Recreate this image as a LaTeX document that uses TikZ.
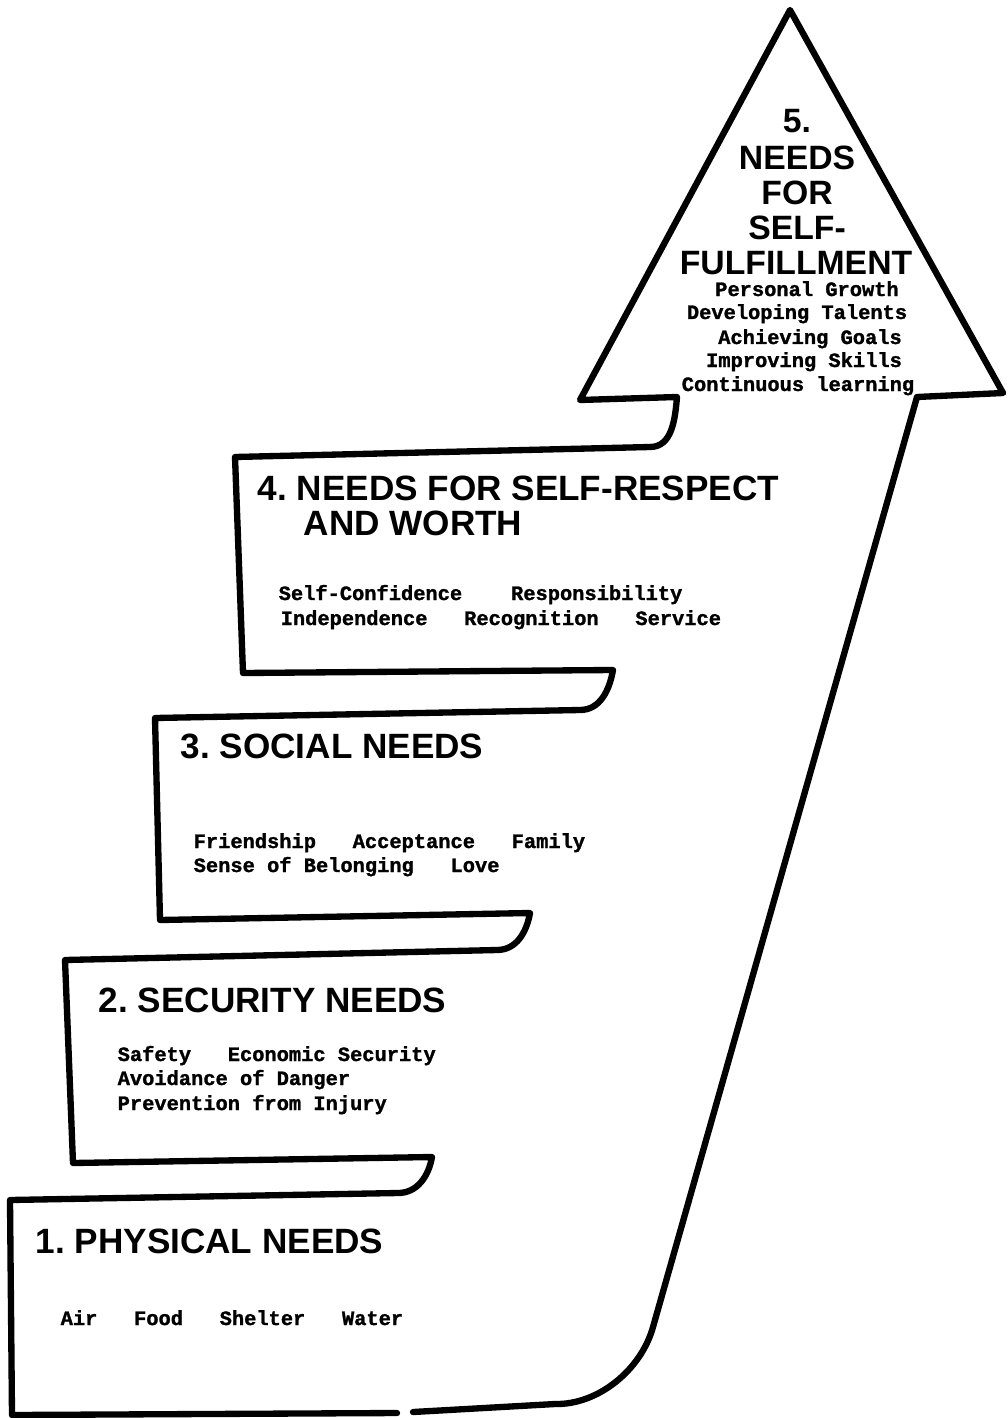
\documentclass[tikz,border=0pt]{standalone}
\usepackage{fontspec}
\setmainfont{Liberation Sans}
\newfontfamily\dotmatrix[FakeBold=1.3]{Liberation Mono}
\frenchspacing

\tikzset{
  outline/.style={line width=1.8pt, line join=round, line cap=round},
  levelname/.style={anchor=base west, inner sep=0pt, font=\bfseries\fontsize{10}{10}\selectfont},
  peakname/.style={anchor=base, inner sep=0pt, font=\bfseries\fontsize{9.6}{9.6}\selectfont},
  needlist/.style={anchor=base west, inner sep=0pt, font=\dotmatrix\bfseries\fontsize{5.8}{7}\selectfont},
  peaklist/.style={anchor=base, inner sep=0pt, font=\dotmatrix\bfseries\fontsize{5.8}{7}\selectfont},
}

\begin{document}
\begin{tikzpicture}
    \path[use as bounding box, fill=white] (0,0) rectangle (10.07,-14.18);

    % Staircase outline, arrow head on top
    \draw[outline] (3.97,-14.13) -- (0.12,-14.15) -- (0.10,-12.00) -- (3.98,-11.93)
        to[out=0,in=-100] (4.32,-11.57) -- (0.73,-11.63) -- (0.65,-9.60) -- (4.97,-9.50)
        to[out=0,in=-100] (5.30,-9.13) -- (1.60,-9.20) -- (1.55,-7.18) -- (5.80,-7.10)
        to[out=0,in=-100] (6.13,-6.70) -- (2.43,-6.73) -- (2.35,-4.57) -- (6.50,-4.47)
        to[out=0,in=-95] (6.77,-3.97) -- (5.80,-4.00) -- (7.90,-0.10) -- (10.03,-3.93)
        -- (9.17,-3.97) -- (6.53,-13.27)
        .. controls (6.41,-13.70) and (5.98,-14.05) .. (5.55,-14.04) -- (4.13,-14.12);

    % Level 1
    \node[levelname] (phys) at (0.35,-12.53) {1. PHYSICAL NEEDS};
    \node[needlist] (physlist) at (0.60,-13.25) {Air~~~Food~~~Shelter~~~Water};

    % Level 2
    \node[levelname] (secu) at (0.98,-10.12) {2. SECURITY NEEDS};
    \node[needlist] (secua) at (1.17,-10.61) {Safety~~~Economic Security};
    \node[needlist] (secub) at (1.17,-10.85) {Avoidance of Danger};
    \node[needlist] (secuc) at (1.17,-11.10) {Prevention from Injury};

    % Level 3
    \node[levelname] (soc) at (1.80,-7.58) {3. SOCIAL NEEDS};
    \node[needlist] (soca) at (1.93,-8.48) {Friendship~~~Acceptance~~~Family};
    \node[needlist] (socb) at (1.93,-8.72) {Sense of Belonging~~~Love};

    % Level 4
    \node[levelname] (resp) at (2.57,-5.00) {4. NEEDS FOR SELF-RESPECT};
    \node[levelname] (respb) at (3.03,-5.35) {AND WORTH};
    \node[needlist] (respc) at (2.78,-6.00) {Self-Confidence~~~~Responsibility};
    \node[needlist] (respd) at (2.80,-6.25) {Independence~~~Recognition~~~Service};

    % Level 5 (arrow head)
    \node[peakname] (fulfa) at (7.97,-1.33) {5.};
    \node[peakname] (fulfb) at (7.97,-1.70) {NEEDS};
    \node[peakname] (fulfc) at (7.97,-2.05) {FOR};
    \node[peakname] (fulfd) at (7.97,-2.40) {SELF-};
    \node[peakname] (fulfe) at (7.96,-2.75) {FULFILLMENT};
    \node[peaklist] (growth) at (8.07,-2.96) {Personal Growth};
    \node[peaklist] (talent) at (7.97,-3.19) {Developing Talents};
    \node[peaklist] (goals) at (8.10,-3.44) {Achieving Goals};
    \node[peaklist] (skills) at (8.04,-3.67) {Improving Skills};
    \node[peaklist] (learn) at (7.98,-3.91) {Continuous learning};
\end{tikzpicture}
\end{document}
